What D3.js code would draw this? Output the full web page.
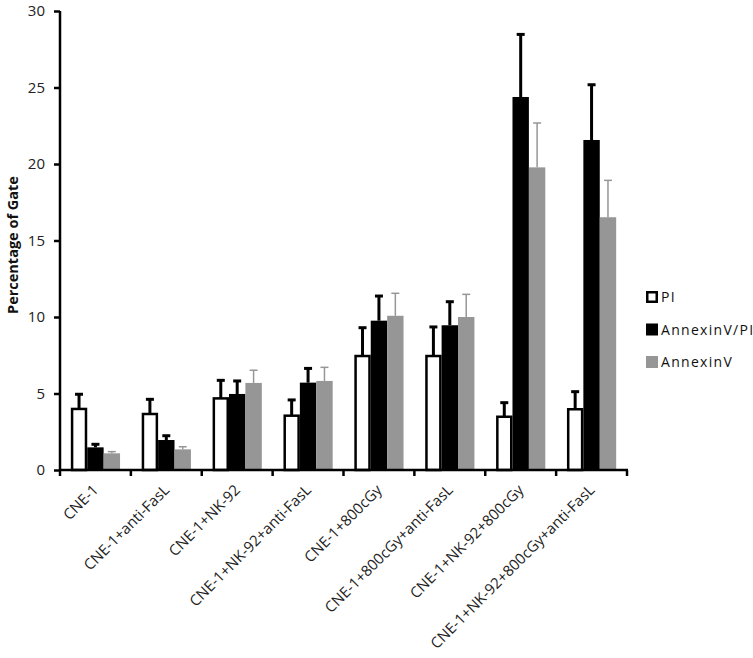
<!DOCTYPE html>
<html><head><meta charset="utf-8">
<script src="https://cdn.jsdelivr.net/npm/d3@7"></script>
<style>body{margin:0;background:#fff}svg{display:block}</style>
</head><body><svg id="c" width="753" height="658"></svg>
<script>
const categories = ["CNE-1","CNE-1+anti-FasL","CNE-1+NK-92","CNE-1+NK-92+anti-FasL","CNE-1+800cGy","CNE-1+800cGy+anti-FasL","CNE-1+NK-92+800cGy","CNE-1+NK-92+800cGy+anti-FasL"];
const seriesNames = ["PI","AnnexinV/PI","AnnexinV"];
const piValues   = [3.99, 3.66, 4.68, 3.55, 7.45, 7.45, 3.48, 3.97];
const piErrors   = [0.96, 0.96, 1.18, 1.03, 1.85, 1.90, 0.92, 1.15];
const apValues   = [1.48, 1.96, 4.97, 5.71, 9.76, 9.46, 24.38, 21.57];
const apErrors   = [0.20, 0.28, 0.85, 0.93, 1.61, 1.54, 4.09, 3.61];
const avValues   = [1.09, 1.35, 5.69, 5.82, 10.08, 10.00, 19.78, 16.52];
const avErrors   = [0.11, 0.17, 0.83, 0.89, 1.47, 1.48, 2.90, 2.41];
const yTicks = [0, 5, 10, 15, 20, 25, 30];

const svg = d3.select("#c");
const font = "'Open Sans', 'DejaVu Sans', sans-serif";
const x0 = d3.scaleBand().domain(categories).range([60, 627]).padding(0);
const x1 = d3.scaleBand().domain(seriesNames).range([0, x0.bandwidth()]).paddingInner(0).paddingOuter(0.66);
const y = d3.scaleLinear().domain([0, 30]).range([470, 11]);

const series = [
  {name: "PI", vals: piValues, errs: piErrors, fill: "#fff", stroke: "#000", sw: 2.5, ec: "#000", ew: 3},
  {name: "AnnexinV/PI", vals: apValues, errs: apErrors, fill: "#000", stroke: "none", sw: 0, ec: "#000", ew: 3},
  {name: "AnnexinV", vals: avValues, errs: avErrors, fill: "#969696", stroke: "none", sw: 0, ec: "#969696", ew: 1.5}
];

const g = svg.append("g");
series.forEach(s => {
  const data = categories.map((c, i) => ({c, v: s.vals[i], e: s.errs[i]}));
  const eg = g.append("g");
  data.forEach(d => {
    const cx = x0(d.c) + x1(s.name) + x1.bandwidth() / 2;
    eg.append("line").attr("x1", cx).attr("x2", cx).attr("y1", y(d.v)).attr("y2", y(d.v + d.e))
      .attr("stroke", s.ec).attr("stroke-width", s.ew);
    eg.append("line").attr("x1", cx - 4).attr("x2", cx + 4).attr("y1", y(d.v + d.e)).attr("y2", y(d.v + d.e))
      .attr("stroke", s.ec).attr("stroke-width", s.ew);
  });
  g.append("g").selectAll("rect").data(data).join("rect")
    .attr("x", d => x0(d.c) + x1(s.name) + s.sw / 2)
    .attr("width", x1.bandwidth() - s.sw)
    .attr("y", d => y(d.v))
    .attr("height", d => y(0) - y(d.v))
    .attr("fill", s.fill).attr("stroke", s.stroke).attr("stroke-width", s.sw);
});

// y axis
const ya = svg.append("g").attr("transform", "translate(60,0)")
  .call(d3.axisLeft(y).tickValues(yTicks).tickSize(6).tickPadding(9).tickFormat(d3.format("d")));
ya.select(".domain").attr("stroke-width", 2.5).attr("d", "M0," + y(30) + "V" + y(0));
ya.selectAll(".tick line").attr("stroke-width", 2.5);
ya.selectAll(".tick text").attr("font-family", font).attr("font-size", 15).attr("fill", "#222");

// x axis
const xa = svg.append("g").attr("transform", "translate(0," + y(0) + ")");
xa.append("line").attr("x1", 59).attr("x2", 628).attr("stroke", "#000").attr("stroke-width", 2.5);
const bounds = categories.map(c => x0(c)).concat([x0.range()[1]]);
xa.selectAll("line.tk").data(bounds).join("line").attr("class", "tk")
  .attr("x1", d => d).attr("x2", d => d).attr("y1", 0).attr("y2", 6)
  .attr("stroke", "#000").attr("stroke-width", 2.5);
xa.selectAll("text").data(categories).join("text")
  .attr("transform", d => "translate(" + (x0(d) + x0.bandwidth() / 2 + 4) + ",21) rotate(-45)")
  .attr("text-anchor", "end")
  .attr("font-family", font).attr("font-size", 15).attr("fill", "#222")
  .text(d => d);

// y title
svg.append("text").attr("transform", "translate(18,245) rotate(-90)")
  .attr("text-anchor", "middle").attr("font-family", font).attr("font-weight", "bold")
  .attr("font-size", 14.5).attr("fill", "#111").text("Percentage of Gate");

// legend
const lg = svg.append("g");
series.forEach((s, i) => {
  const ly = 297 + i * 32.5;
  lg.append("rect").attr("x", 646 + s.sw / 2).attr("y", ly - 6 + s.sw / 2)
    .attr("width", 12 - s.sw).attr("height", 12 - s.sw)
    .attr("fill", s.fill).attr("stroke", s.stroke).attr("stroke-width", s.sw);
  lg.append("text").attr("x", 661).attr("y", ly + 5).attr("font-family", font)
    .attr("font-size", 14).attr("letter-spacing", 1.3).attr("fill", "#111").text(s.name);
});
</script></body></html>
